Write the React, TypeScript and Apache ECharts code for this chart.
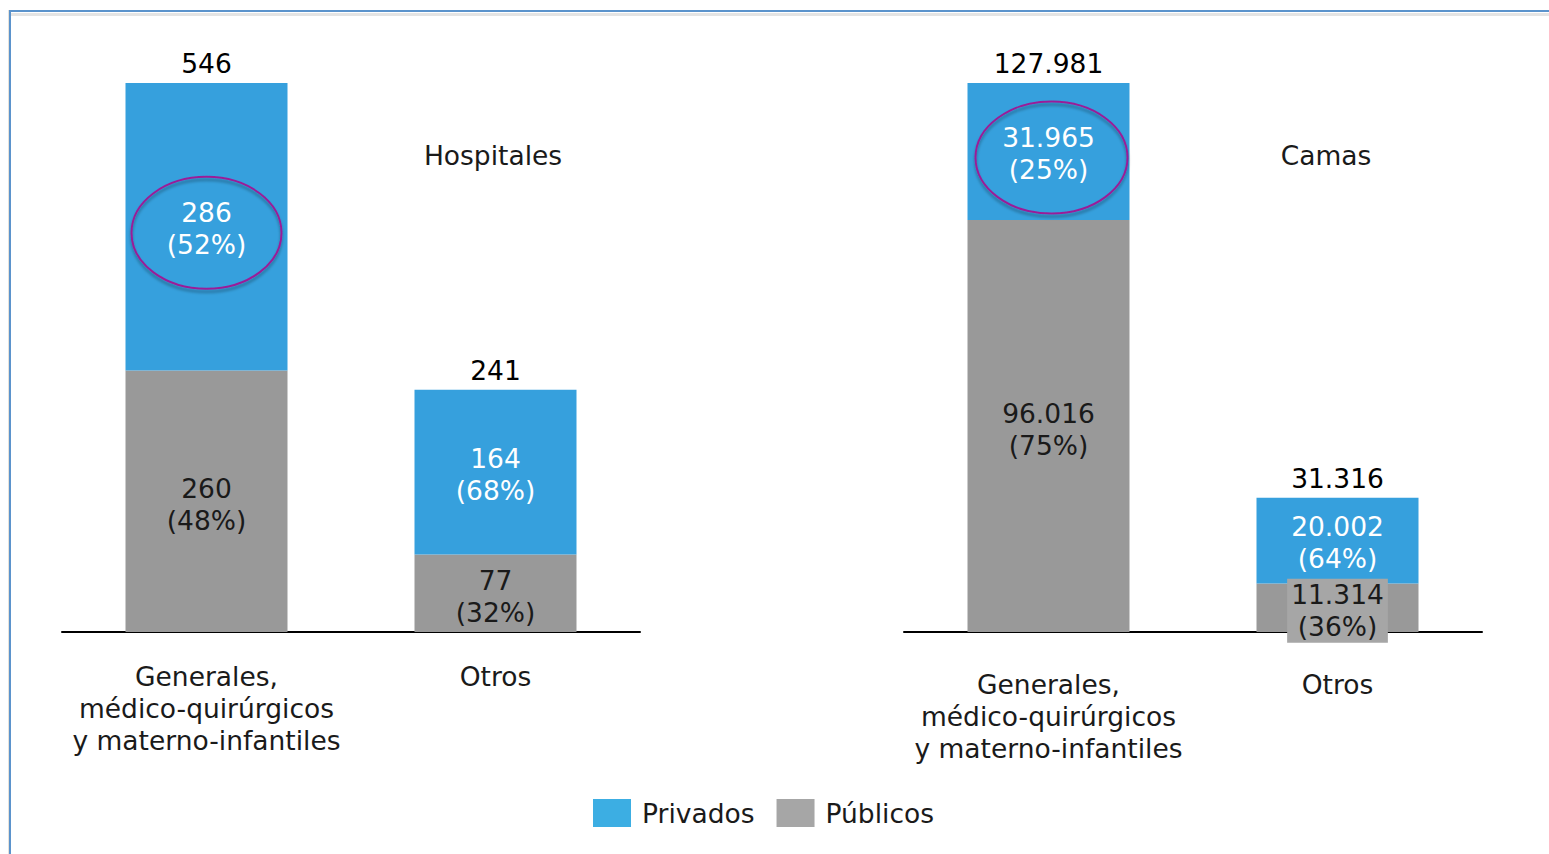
import React, { useEffect, useRef } from 'react';
import * as echarts from 'echarts';

const categories = ['Generales,\nmédico-quirúrgicos\ny materno-infantiles', 'Otros'];
const panelTitles = ['Hospitales', 'Camas'];
const seriesNames = ['Privados', 'Públicos'];
const hospitalesPublicos = [260, 77];
const hospitalesPrivados = [286, 164];
const camasPublicos = [96016, 11314];
const camasPrivados = [31965, 20002];

const FONT = 'Verdana, "DejaVu Sans", sans-serif';
const FS = 26.5;
const BLUE = '#36a0dd';
const GRAY = '#999999';
const LEG_BLUE = '#3caee3';
const LEG_GRAY = '#a6a6a6';

const fmt = (n: number) => String(n).replace(/\B(?=(\d{3})+(?!\d))/g, '.');

export default function App() {
  const ref = useRef<HTMLDivElement>(null);
  useEffect(() => {
    if (!ref.current) return;
    const chart = echarts.init(ref.current, null, { renderer: 'svg' });
    const panels = [
      { pub: hospitalesPublicos, priv: hospitalesPrivados },
      { pub: camasPublicos, priv: camasPrivados },
    ];
    const grids = [
      { left: 62, right: 909, top: 83, bottom: 222 },
      { left: 904, right: 67, top: 83, bottom: 222 },
    ];
    const labelMargins = [28, 36];
    const series: any[] = [];
    panels.forEach((p, i) => {
      const totals = p.pub.map((v, k) => v + p.priv[k]);
      const pct = (v: number, k: number) => Math.round((v / totals[k]) * 100);
      series.push({
        name: seriesNames[1],
        type: 'bar',
        stack: 's' + i,
        xAxisIndex: i,
        yAxisIndex: i,
        barWidth: 162,
        itemStyle: { color: GRAY },
        data: p.pub.map((v, k) =>
          i === 1 && k === 1
            ? { value: v, label: { backgroundColor: '#a6a6a6', padding: [0, 4, 0, 4] } }
            : v
        ),
        label: {
          show: true,
          position: 'inside',
          offset: [0, 3],
          color: '#1a1a1a',
          fontSize: FS,
          lineHeight: 32,
          fontFamily: FONT,
          formatter: (prm: any) => `${fmt(p.pub[prm.dataIndex])}\n(${pct(p.pub[prm.dataIndex], prm.dataIndex)}%)`,
        },
      });
      series.push({
        name: seriesNames[0],
        type: 'bar',
        stack: 's' + i,
        xAxisIndex: i,
        yAxisIndex: i,
        barWidth: 162,
        itemStyle: { color: BLUE },
        data: p.priv,
        label: {
          show: true,
          position: 'inside',
          offset: [0, 2],
          color: '#ffffff',
          fontSize: FS,
          lineHeight: 32,
          fontFamily: FONT,
          formatter: (prm: any) => `${fmt(p.priv[prm.dataIndex])}\n(${pct(p.priv[prm.dataIndex], prm.dataIndex)}%)`,
        },
      });
      series.push({
        name: 'Total' + i,
        type: 'scatter',
        xAxisIndex: i,
        yAxisIndex: i,
        symbol: 'circle',
        symbolSize: 1,
        itemStyle: { color: 'rgba(255,255,255,0)' },
        data: totals,
        z: 10,
        label: {
          show: true,
          position: 'top',
          distance: 3,
          color: '#000000',
          opacity: 1,
          fontSize: FS,
          lineHeight: 32,
          fontFamily: FONT,
          formatter: (prm: any) => fmt(totals[prm.dataIndex]),
        },
      });
    });

    const option: any = {
      animation: false,
      textStyle: { fontFamily: FONT },
      grid: grids,
      xAxis: grids.map((_, i) => ({
        type: 'category',
        gridIndex: i,
        data: categories,
        axisLine: { lineStyle: { color: '#000', width: 2 } },
        axisTick: { show: false },
        axisLabel: {
          color: '#1a1a1a',
          fontSize: FS,
          lineHeight: 32,
          fontFamily: FONT,
          margin: labelMargins[i],
          interval: 0,
        },
      })),
      yAxis: panels.map((p, i) => ({
        type: 'value',
        gridIndex: i,
        min: 0,
        max: p.pub[0] + p.priv[0],
        show: false,
        splitLine: { show: false },
      })),
      legend: {
        data: [
          { name: seriesNames[0], itemStyle: { color: LEG_BLUE } },
          { name: seriesNames[1], itemStyle: { color: LEG_GRAY } },
        ],
        left: 593,
        top: 799,
        padding: 0,
        icon: 'rect',
        itemWidth: 38,
        itemHeight: 28,
        itemGap: 22,
        textStyle: { fontSize: FS, color: '#1a1a1a', fontFamily: FONT, padding: [2, 0, 0, 6] },
      },
      series,
    };
    chart.setOption(option);

    const c0 = chart.convertToPixel({ gridIndex: 0 } as any, [0, hospitalesPublicos[0] + hospitalesPrivados[0] / 2]) as number[];
    const c1 = chart.convertToPixel({ gridIndex: 1 } as any, [0, camasPublicos[0] + camasPrivados[0] / 2]) as number[];
    const ellipseStyle = {
      fill: 'none',
      stroke: '#9a1f98',
      lineWidth: 2,
      shadowColor: 'rgba(0,0,0,0.35)',
      shadowBlur: 3,
      shadowOffsetY: 3,
    };
    chart.setOption({
      graphic: [
        { type: 'rect', shape: { x: 11, y: 13, width: 1538, height: 3 }, style: { fill: '#e4e4e4' }, silent: true },
        { type: 'rect', shape: { x: 8, y: 10, width: 1, height: 844 }, style: { fill: '#e6e2da' }, silent: true },
        { type: 'rect', shape: { x: 9, y: 10, width: 1540, height: 2 }, style: { fill: '#5b93cc' }, silent: true },
        { type: 'rect', shape: { x: 9, y: 10, width: 2, height: 844 }, style: { fill: '#5b93cc' }, silent: true },
        {
          type: 'text',
          x: 493,
          y: 155,
          style: { text: panelTitles[0], fontSize: FS, fontFamily: FONT, fill: '#1a1a1a', textAlign: 'center', textVerticalAlign: 'middle' },
        },
        {
          type: 'text',
          x: 1326,
          y: 155,
          style: { text: panelTitles[1], fontSize: FS, fontFamily: FONT, fill: '#1a1a1a', textAlign: 'center', textVerticalAlign: 'middle' },
        },
        { type: 'ellipse', shape: { cx: c0[0], cy: c0[1] + 6, rx: 75, ry: 56 }, style: ellipseStyle, z: 100 },
        { type: 'ellipse', shape: { cx: c1[0] + 3, cy: c1[1] + 6, rx: 76, ry: 56 }, style: ellipseStyle, z: 100 },
      ],
    });
    return () => chart.dispose();
  }, []);
  return <div ref={ref} style={{ position: 'fixed', left: 0, top: 0, width: 1549, height: 854, background: '#fff' }} />;
}
